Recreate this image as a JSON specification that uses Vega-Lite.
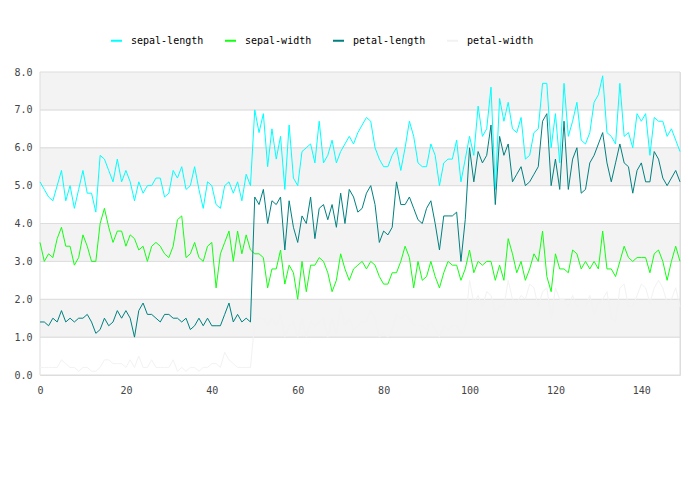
{
  "$schema": "https://vega.github.io/schema/vega-lite/v6.json",
  "width": 640,
  "height": 303,
  "autosize": "none",
  "padding": {"left": 40, "top": 72, "right": 20, "bottom": 125},
  "background": "white",
  "config": {
    "font": "DejaVu Sans Mono",
    "view": {"stroke": "#dddddd", "strokeWidth": 1},
    "axis": {"labelFont": "DejaVu Sans Mono", "labelFontSize": 10, "labelColor": "#444444", "domain": false, "ticks": false, "grid": false, "title": null, "labelOverlap": false},
    "legend": {"labelFont": "DejaVu Sans Mono", "labelFontSize": 10, "labelColor": "#000000"}
  },
  "layer": [
    {
      "data": {"values": [{"lo": 0, "hi": 1, "band": "w"}, {"lo": 1, "hi": 2, "band": "g"}, {"lo": 2, "hi": 3, "band": "w"}, {"lo": 3, "hi": 4, "band": "g"}, {"lo": 4, "hi": 5, "band": "w"}, {"lo": 5, "hi": 6, "band": "g"}, {"lo": 6, "hi": 7, "band": "w"}, {"lo": 7, "hi": 8, "band": "g"}]},
      "mark": {"type": "rect", "stroke": "#dddddd", "strokeWidth": 1},
      "encoding": {
        "y": {"field": "lo", "type": "quantitative", "scale": {"domain": [0, 8], "nice": false}, "axis": {"values": [0,1,2,3,4,5,6,7,8], "format": ".1f", "labelPadding": 8}},
        "y2": {"field": "hi"},
        "fill": {"field": "band", "type": "nominal", "scale": {"domain": ["w", "g"], "range": ["#ffffff", "#f3f3f3"]}, "legend": null}
      }
    },
    {
      "data": {"values": [
{"i":0,"sepal-length":5.1,"sepal-width":3.5,"petal-length":1.4,"petal-width":0.2},
{"i":1,"sepal-length":4.9,"sepal-width":3.0,"petal-length":1.4,"petal-width":0.2},
{"i":2,"sepal-length":4.7,"sepal-width":3.2,"petal-length":1.3,"petal-width":0.2},
{"i":3,"sepal-length":4.6,"sepal-width":3.1,"petal-length":1.5,"petal-width":0.2},
{"i":4,"sepal-length":5.0,"sepal-width":3.6,"petal-length":1.4,"petal-width":0.2},
{"i":5,"sepal-length":5.4,"sepal-width":3.9,"petal-length":1.7,"petal-width":0.4},
{"i":6,"sepal-length":4.6,"sepal-width":3.4,"petal-length":1.4,"petal-width":0.3},
{"i":7,"sepal-length":5.0,"sepal-width":3.4,"petal-length":1.5,"petal-width":0.2},
{"i":8,"sepal-length":4.4,"sepal-width":2.9,"petal-length":1.4,"petal-width":0.2},
{"i":9,"sepal-length":4.9,"sepal-width":3.1,"petal-length":1.5,"petal-width":0.1},
{"i":10,"sepal-length":5.4,"sepal-width":3.7,"petal-length":1.5,"petal-width":0.2},
{"i":11,"sepal-length":4.8,"sepal-width":3.4,"petal-length":1.6,"petal-width":0.2},
{"i":12,"sepal-length":4.8,"sepal-width":3.0,"petal-length":1.4,"petal-width":0.1},
{"i":13,"sepal-length":4.3,"sepal-width":3.0,"petal-length":1.1,"petal-width":0.1},
{"i":14,"sepal-length":5.8,"sepal-width":4.0,"petal-length":1.2,"petal-width":0.2},
{"i":15,"sepal-length":5.7,"sepal-width":4.4,"petal-length":1.5,"petal-width":0.4},
{"i":16,"sepal-length":5.4,"sepal-width":3.9,"petal-length":1.3,"petal-width":0.4},
{"i":17,"sepal-length":5.1,"sepal-width":3.5,"petal-length":1.4,"petal-width":0.3},
{"i":18,"sepal-length":5.7,"sepal-width":3.8,"petal-length":1.7,"petal-width":0.3},
{"i":19,"sepal-length":5.1,"sepal-width":3.8,"petal-length":1.5,"petal-width":0.3},
{"i":20,"sepal-length":5.4,"sepal-width":3.4,"petal-length":1.7,"petal-width":0.2},
{"i":21,"sepal-length":5.1,"sepal-width":3.7,"petal-length":1.5,"petal-width":0.4},
{"i":22,"sepal-length":4.6,"sepal-width":3.6,"petal-length":1.0,"petal-width":0.2},
{"i":23,"sepal-length":5.1,"sepal-width":3.3,"petal-length":1.7,"petal-width":0.5},
{"i":24,"sepal-length":4.8,"sepal-width":3.4,"petal-length":1.9,"petal-width":0.2},
{"i":25,"sepal-length":5.0,"sepal-width":3.0,"petal-length":1.6,"petal-width":0.2},
{"i":26,"sepal-length":5.0,"sepal-width":3.4,"petal-length":1.6,"petal-width":0.4},
{"i":27,"sepal-length":5.2,"sepal-width":3.5,"petal-length":1.5,"petal-width":0.2},
{"i":28,"sepal-length":5.2,"sepal-width":3.4,"petal-length":1.4,"petal-width":0.2},
{"i":29,"sepal-length":4.7,"sepal-width":3.2,"petal-length":1.6,"petal-width":0.2},
{"i":30,"sepal-length":4.8,"sepal-width":3.1,"petal-length":1.6,"petal-width":0.2},
{"i":31,"sepal-length":5.4,"sepal-width":3.4,"petal-length":1.5,"petal-width":0.4},
{"i":32,"sepal-length":5.2,"sepal-width":4.1,"petal-length":1.5,"petal-width":0.1},
{"i":33,"sepal-length":5.5,"sepal-width":4.2,"petal-length":1.4,"petal-width":0.2},
{"i":34,"sepal-length":4.9,"sepal-width":3.1,"petal-length":1.5,"petal-width":0.1},
{"i":35,"sepal-length":5.0,"sepal-width":3.2,"petal-length":1.2,"petal-width":0.2},
{"i":36,"sepal-length":5.5,"sepal-width":3.5,"petal-length":1.3,"petal-width":0.2},
{"i":37,"sepal-length":4.9,"sepal-width":3.1,"petal-length":1.5,"petal-width":0.1},
{"i":38,"sepal-length":4.4,"sepal-width":3.0,"petal-length":1.3,"petal-width":0.2},
{"i":39,"sepal-length":5.1,"sepal-width":3.4,"petal-length":1.5,"petal-width":0.2},
{"i":40,"sepal-length":5.0,"sepal-width":3.5,"petal-length":1.3,"petal-width":0.3},
{"i":41,"sepal-length":4.5,"sepal-width":2.3,"petal-length":1.3,"petal-width":0.3},
{"i":42,"sepal-length":4.4,"sepal-width":3.2,"petal-length":1.3,"petal-width":0.2},
{"i":43,"sepal-length":5.0,"sepal-width":3.5,"petal-length":1.6,"petal-width":0.6},
{"i":44,"sepal-length":5.1,"sepal-width":3.8,"petal-length":1.9,"petal-width":0.4},
{"i":45,"sepal-length":4.8,"sepal-width":3.0,"petal-length":1.4,"petal-width":0.3},
{"i":46,"sepal-length":5.1,"sepal-width":3.8,"petal-length":1.6,"petal-width":0.2},
{"i":47,"sepal-length":4.6,"sepal-width":3.2,"petal-length":1.4,"petal-width":0.2},
{"i":48,"sepal-length":5.3,"sepal-width":3.7,"petal-length":1.5,"petal-width":0.2},
{"i":49,"sepal-length":5.0,"sepal-width":3.3,"petal-length":1.4,"petal-width":0.2},
{"i":50,"sepal-length":7.0,"sepal-width":3.2,"petal-length":4.7,"petal-width":1.4},
{"i":51,"sepal-length":6.4,"sepal-width":3.2,"petal-length":4.5,"petal-width":1.5},
{"i":52,"sepal-length":6.9,"sepal-width":3.1,"petal-length":4.9,"petal-width":1.5},
{"i":53,"sepal-length":5.5,"sepal-width":2.3,"petal-length":4.0,"petal-width":1.3},
{"i":54,"sepal-length":6.5,"sepal-width":2.8,"petal-length":4.6,"petal-width":1.5},
{"i":55,"sepal-length":5.7,"sepal-width":2.8,"petal-length":4.5,"petal-width":1.3},
{"i":56,"sepal-length":6.3,"sepal-width":3.3,"petal-length":4.7,"petal-width":1.6},
{"i":57,"sepal-length":4.9,"sepal-width":2.4,"petal-length":3.3,"petal-width":1.0},
{"i":58,"sepal-length":6.6,"sepal-width":2.9,"petal-length":4.6,"petal-width":1.3},
{"i":59,"sepal-length":5.2,"sepal-width":2.7,"petal-length":3.9,"petal-width":1.4},
{"i":60,"sepal-length":5.0,"sepal-width":2.0,"petal-length":3.5,"petal-width":1.0},
{"i":61,"sepal-length":5.9,"sepal-width":3.0,"petal-length":4.2,"petal-width":1.5},
{"i":62,"sepal-length":6.0,"sepal-width":2.2,"petal-length":4.0,"petal-width":1.0},
{"i":63,"sepal-length":6.1,"sepal-width":2.9,"petal-length":4.7,"petal-width":1.4},
{"i":64,"sepal-length":5.6,"sepal-width":2.9,"petal-length":3.6,"petal-width":1.3},
{"i":65,"sepal-length":6.7,"sepal-width":3.1,"petal-length":4.4,"petal-width":1.4},
{"i":66,"sepal-length":5.6,"sepal-width":3.0,"petal-length":4.5,"petal-width":1.5},
{"i":67,"sepal-length":5.8,"sepal-width":2.7,"petal-length":4.1,"petal-width":1.0},
{"i":68,"sepal-length":6.2,"sepal-width":2.2,"petal-length":4.5,"petal-width":1.5},
{"i":69,"sepal-length":5.6,"sepal-width":2.5,"petal-length":3.9,"petal-width":1.1},
{"i":70,"sepal-length":5.9,"sepal-width":3.2,"petal-length":4.8,"petal-width":1.8},
{"i":71,"sepal-length":6.1,"sepal-width":2.8,"petal-length":4.0,"petal-width":1.3},
{"i":72,"sepal-length":6.3,"sepal-width":2.5,"petal-length":4.9,"petal-width":1.5},
{"i":73,"sepal-length":6.1,"sepal-width":2.8,"petal-length":4.7,"petal-width":1.2},
{"i":74,"sepal-length":6.4,"sepal-width":2.9,"petal-length":4.3,"petal-width":1.3},
{"i":75,"sepal-length":6.6,"sepal-width":3.0,"petal-length":4.4,"petal-width":1.4},
{"i":76,"sepal-length":6.8,"sepal-width":2.8,"petal-length":4.8,"petal-width":1.4},
{"i":77,"sepal-length":6.7,"sepal-width":3.0,"petal-length":5.0,"petal-width":1.7},
{"i":78,"sepal-length":6.0,"sepal-width":2.9,"petal-length":4.5,"petal-width":1.5},
{"i":79,"sepal-length":5.7,"sepal-width":2.6,"petal-length":3.5,"petal-width":1.0},
{"i":80,"sepal-length":5.5,"sepal-width":2.4,"petal-length":3.8,"petal-width":1.1},
{"i":81,"sepal-length":5.5,"sepal-width":2.4,"petal-length":3.7,"petal-width":1.0},
{"i":82,"sepal-length":5.8,"sepal-width":2.7,"petal-length":3.9,"petal-width":1.2},
{"i":83,"sepal-length":6.0,"sepal-width":2.7,"petal-length":5.1,"petal-width":1.6},
{"i":84,"sepal-length":5.4,"sepal-width":3.0,"petal-length":4.5,"petal-width":1.5},
{"i":85,"sepal-length":6.0,"sepal-width":3.4,"petal-length":4.5,"petal-width":1.6},
{"i":86,"sepal-length":6.7,"sepal-width":3.1,"petal-length":4.7,"petal-width":1.5},
{"i":87,"sepal-length":6.3,"sepal-width":2.3,"petal-length":4.4,"petal-width":1.3},
{"i":88,"sepal-length":5.6,"sepal-width":3.0,"petal-length":4.1,"petal-width":1.3},
{"i":89,"sepal-length":5.5,"sepal-width":2.5,"petal-length":4.0,"petal-width":1.3},
{"i":90,"sepal-length":5.5,"sepal-width":2.6,"petal-length":4.4,"petal-width":1.2},
{"i":91,"sepal-length":6.1,"sepal-width":3.0,"petal-length":4.6,"petal-width":1.4},
{"i":92,"sepal-length":5.8,"sepal-width":2.6,"petal-length":4.0,"petal-width":1.2},
{"i":93,"sepal-length":5.0,"sepal-width":2.3,"petal-length":3.3,"petal-width":1.0},
{"i":94,"sepal-length":5.6,"sepal-width":2.7,"petal-length":4.2,"petal-width":1.3},
{"i":95,"sepal-length":5.7,"sepal-width":3.0,"petal-length":4.2,"petal-width":1.2},
{"i":96,"sepal-length":5.7,"sepal-width":2.9,"petal-length":4.2,"petal-width":1.3},
{"i":97,"sepal-length":6.2,"sepal-width":2.9,"petal-length":4.3,"petal-width":1.3},
{"i":98,"sepal-length":5.1,"sepal-width":2.5,"petal-length":3.0,"petal-width":1.1},
{"i":99,"sepal-length":5.7,"sepal-width":2.8,"petal-length":4.1,"petal-width":1.3},
{"i":100,"sepal-length":6.3,"sepal-width":3.3,"petal-length":6.0,"petal-width":2.5},
{"i":101,"sepal-length":5.8,"sepal-width":2.7,"petal-length":5.1,"petal-width":1.9},
{"i":102,"sepal-length":7.1,"sepal-width":3.0,"petal-length":5.9,"petal-width":2.1},
{"i":103,"sepal-length":6.3,"sepal-width":2.9,"petal-length":5.6,"petal-width":1.8},
{"i":104,"sepal-length":6.5,"sepal-width":3.0,"petal-length":5.8,"petal-width":2.2},
{"i":105,"sepal-length":7.6,"sepal-width":3.0,"petal-length":6.6,"petal-width":2.1},
{"i":106,"sepal-length":4.9,"sepal-width":2.5,"petal-length":4.5,"petal-width":1.7},
{"i":107,"sepal-length":7.3,"sepal-width":2.9,"petal-length":6.3,"petal-width":1.8},
{"i":108,"sepal-length":6.7,"sepal-width":2.5,"petal-length":5.8,"petal-width":1.8},
{"i":109,"sepal-length":7.2,"sepal-width":3.6,"petal-length":6.1,"petal-width":2.5},
{"i":110,"sepal-length":6.5,"sepal-width":3.2,"petal-length":5.1,"petal-width":2.0},
{"i":111,"sepal-length":6.4,"sepal-width":2.7,"petal-length":5.3,"petal-width":1.9},
{"i":112,"sepal-length":6.8,"sepal-width":3.0,"petal-length":5.5,"petal-width":2.1},
{"i":113,"sepal-length":5.7,"sepal-width":2.5,"petal-length":5.0,"petal-width":2.0},
{"i":114,"sepal-length":5.8,"sepal-width":2.8,"petal-length":5.1,"petal-width":2.4},
{"i":115,"sepal-length":6.4,"sepal-width":3.2,"petal-length":5.3,"petal-width":2.3},
{"i":116,"sepal-length":6.5,"sepal-width":3.0,"petal-length":5.5,"petal-width":1.8},
{"i":117,"sepal-length":7.7,"sepal-width":3.8,"petal-length":6.7,"petal-width":2.2},
{"i":118,"sepal-length":7.7,"sepal-width":2.6,"petal-length":6.9,"petal-width":2.3},
{"i":119,"sepal-length":6.0,"sepal-width":2.2,"petal-length":5.0,"petal-width":1.5},
{"i":120,"sepal-length":6.9,"sepal-width":3.2,"petal-length":5.7,"petal-width":2.3},
{"i":121,"sepal-length":5.6,"sepal-width":2.8,"petal-length":4.9,"petal-width":2.0},
{"i":122,"sepal-length":7.7,"sepal-width":2.8,"petal-length":6.7,"petal-width":2.0},
{"i":123,"sepal-length":6.3,"sepal-width":2.7,"petal-length":4.9,"petal-width":1.8},
{"i":124,"sepal-length":6.7,"sepal-width":3.3,"petal-length":5.7,"petal-width":2.1},
{"i":125,"sepal-length":7.2,"sepal-width":3.2,"petal-length":6.0,"petal-width":1.8},
{"i":126,"sepal-length":6.2,"sepal-width":2.8,"petal-length":4.8,"petal-width":1.8},
{"i":127,"sepal-length":6.1,"sepal-width":3.0,"petal-length":4.9,"petal-width":1.8},
{"i":128,"sepal-length":6.4,"sepal-width":2.8,"petal-length":5.6,"petal-width":2.1},
{"i":129,"sepal-length":7.2,"sepal-width":3.0,"petal-length":5.8,"petal-width":1.6},
{"i":130,"sepal-length":7.4,"sepal-width":2.8,"petal-length":6.1,"petal-width":1.9},
{"i":131,"sepal-length":7.9,"sepal-width":3.8,"petal-length":6.4,"petal-width":2.0},
{"i":132,"sepal-length":6.4,"sepal-width":2.8,"petal-length":5.6,"petal-width":2.2},
{"i":133,"sepal-length":6.3,"sepal-width":2.8,"petal-length":5.1,"petal-width":1.5},
{"i":134,"sepal-length":6.1,"sepal-width":2.6,"petal-length":5.6,"petal-width":1.4},
{"i":135,"sepal-length":7.7,"sepal-width":3.0,"petal-length":6.1,"petal-width":2.3},
{"i":136,"sepal-length":6.3,"sepal-width":3.4,"petal-length":5.6,"petal-width":2.4},
{"i":137,"sepal-length":6.4,"sepal-width":3.1,"petal-length":5.5,"petal-width":1.8},
{"i":138,"sepal-length":6.0,"sepal-width":3.0,"petal-length":4.8,"petal-width":1.8},
{"i":139,"sepal-length":6.9,"sepal-width":3.1,"petal-length":5.4,"petal-width":2.1},
{"i":140,"sepal-length":6.7,"sepal-width":3.1,"petal-length":5.6,"petal-width":2.4},
{"i":141,"sepal-length":6.9,"sepal-width":3.1,"petal-length":5.1,"petal-width":2.3},
{"i":142,"sepal-length":5.8,"sepal-width":2.7,"petal-length":5.1,"petal-width":1.9},
{"i":143,"sepal-length":6.8,"sepal-width":3.2,"petal-length":5.9,"petal-width":2.3},
{"i":144,"sepal-length":6.7,"sepal-width":3.3,"petal-length":5.7,"petal-width":2.5},
{"i":145,"sepal-length":6.7,"sepal-width":3.0,"petal-length":5.2,"petal-width":2.3},
{"i":146,"sepal-length":6.3,"sepal-width":2.5,"petal-length":5.0,"petal-width":1.9},
{"i":147,"sepal-length":6.5,"sepal-width":3.0,"petal-length":5.2,"petal-width":2.0},
{"i":148,"sepal-length":6.2,"sepal-width":3.4,"petal-length":5.4,"petal-width":2.3},
{"i":149,"sepal-length":5.9,"sepal-width":3.0,"petal-length":5.1,"petal-width":1.8}
      ]},
      "transform": [{"fold": ["sepal-length", "sepal-width", "petal-length", "petal-width"], "as": ["series", "val"]}],
      "mark": {"type": "line", "strokeWidth": 1, "interpolate": "linear"},
      "encoding": {
        "x": {"field": "i", "type": "quantitative", "scale": {"domain": [0, 149], "nice": false, "zero": false}, "axis": {"values": [0,20,40,60,80,100,120,140], "labelPadding": 10, "labelFlush": false}},
        "y": {"field": "val", "type": "quantitative", "axis": {"values": [0,1,2,3,4,5,6,7,8], "format": ".1f", "labelPadding": 8}},
        "color": {
          "field": "series", "type": "nominal",
          "scale": {"domain": ["sepal-length", "sepal-width", "petal-length", "petal-width"], "range": ["#00ffff", "#11ff11", "#008080", "#f2f2f2"]},
          "legend": {"title": null, "orient": "none", "legendX": 70, "legendY": -38, "direction": "horizontal", "columns": 4, "columnPadding": 17, "symbolType": "stroke", "symbolSize": 121, "symbolStrokeWidth": 2, "labelOffset": 8, "padding": 0}
        }
      }
    }
  ]
}
